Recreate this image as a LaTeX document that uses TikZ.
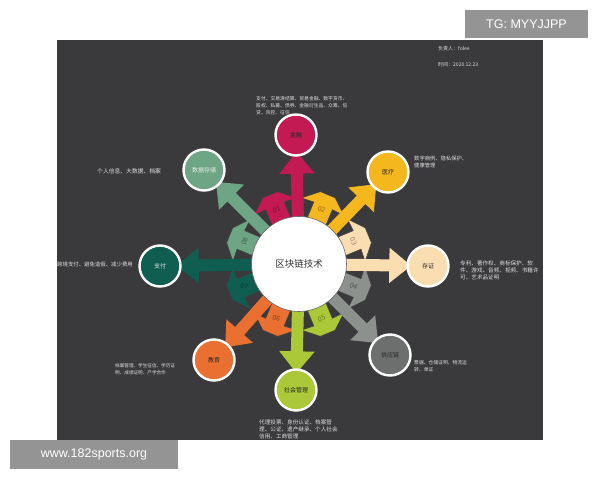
\documentclass[tikz,border=0pt]{standalone}
\usepackage{fontspec}
\setmainfont{Noto Sans CJK SC}
\newfontfamily\wmfont{Liberation Sans}
\usetikzlibrary{arrows.meta,backgrounds}
\definecolor{panel}{RGB}{58,58,60}
\definecolor{jr}{RGB}{196,26,84}
\definecolor{yl}{RGB}{245,183,30}
\definecolor{cz}{RGB}{250,222,178}
\definecolor{gy}{RGB}{140,145,142}
\definecolor{gyc}{RGB}{108,111,109}
\definecolor{sh}{RGB}{170,200,55}
\definecolor{jy}{RGB}{233,112,48}
\definecolor{zf}{RGB}{16,94,82}
\definecolor{sj}{RGB}{110,165,132}
\definecolor{notetext}{RGB}{222,222,222}

\begin{document}
\begin{tikzpicture}[x=1pt,y=1pt,
	hub/.style={circle,fill=white,draw=black!60,line width=0.6pt,minimum size=95pt,inner sep=0pt,
		font=\fontsize{9.5}{11}\selectfont,text=black!80},
	leaf/.style={circle,fill=#1,draw=white,line width=2.4pt,minimum size=41pt,inner sep=0pt,
		font=\fontsize{6}{7}\selectfont,text=black!85},
	spoke/.style={draw=#1,line width=12pt,-{Triangle[length=22pt,width=34pt]},
		shorten >=-5pt,shorten <=-3pt},
	seg/.style={fill=#1,draw=black!75,line width=0.5pt,line join=round},
	segnum/.style={text=#1!60!black,font=\fontsize{7}{8}\selectfont,inner sep=0pt},
	note/.style={align=left,anchor=north west,inner sep=0pt,text=notetext,
		font=\fontsize{#1}{7}\selectfont},
	wbox/.style={fill=black!42,text=white,font=\wmfont\fontsize{12.5}{14}\selectfont,inner sep=0pt}]
	\useasboundingbox (0,0) rectangle (600,480);

	\node[hub] (core) at (299,216) {区块链技术};
	\node[leaf=jr] (jinrong) at (296,345) {金融};
	\node[leaf=yl] (yiliao) at (388,308) {医疗};
	\node[leaf=cz] (cunzheng) at (428,214) {存证};
	\node[leaf=gyc] (gongying) at (390,125) {供应链};
	\node[leaf=sh] (shehui) at (296,90) {社会管理};
	\node[leaf=jy] (jiaoyu) at (214,120) {教育};
	\node[leaf=zf,text=notetext] (zhifu) at (160,214) {支付};
	\node[leaf=sj,text=white!92!black] (shuju) at (204,310) {数据存储};

	\node[note=4.8] (jr-note) at (256,384) {支付、交易清结算、贸易金融、数字货币、\\股权、私募、债券、金融衍生品、众筹、信\\贷、风控、征信};
	\node[note=5.3] (yl-note) at (414,324) {数字病例、隐私保护、\\健康管理};
	\node[note=5.6] (cz-note) at (460,219) {专利、著作权、商标保护、软\\件、游戏、音频、视频、书籍许\\可、艺术品证明};
	\node[note=4.8] (gy-note) at (414,120) {票据、仓储证明、物流运\\转、单证};
	\node[note=5.6] (sh-note) at (259,60) {代理投票、身份认证、档案管\\理、公证、遗产继承、个人社会\\信用、工商管理};
	\node[note=4.6] (jy-note) at (115,117) {档案管理、学生征信、学历证\\明、成绩证明、产学合作};
	\node[note=5.8] (sj-note) at (97,312) {个人信息、大数据、档案};
	\node[note=5.4] (zf-note) at (57,218) {跨境支付、避免造假、减少费用};
	\node[note=5] (owner) at (438,434) {负责人：folee};
	\node[note=5] (date) at (438,418) {时间：2020.12.23};

	\node[wbox,minimum width=123pt,minimum height=28pt] (tg) at (526.5,456) {TG: MYYJJPP};
	\node[wbox,minimum width=168pt,minimum height=29pt] (site) at (94,25.5) {www.182sports.org};

	\begin{scope}[on background layer]
		\fill[white] (0,0) rectangle (600,480);
		\fill[panel] (57,40) rectangle (543,440);
		\foreach \ang/\col/\num/\rot in {112.5/jr/01/22.5,67.5/yl/02/-22.5,22.5/cz/03/-67.5,-22.5/gy/04/-20,
			-67.5/sh/05/20,-112.5/jy/06/-20,-157.5/zf/07/-20,157.5/sj/08/67.5}{
			\begin{scope}[shift={(core.center)},rotate=\ang]
				\draw[seg=\col] (44,-10) -- (63,-10) -- (62,-23) -- (75,-8) -- (75,8) -- (62,23) -- (63,10) -- (44,10) -- cycle;
				\node[segnum=\col,rotate=\rot] (n\num) at (59,0) {\num};
			\end{scope}}
		\draw[spoke=jr] (core) -- (jinrong);
		\draw[spoke=yl] (core) -- (yiliao);
		\draw[spoke=cz] (core) -- (cunzheng);
		\draw[spoke=gy] (core) -- (gongying);
		\draw[spoke=sh] (core) -- (shehui);
		\draw[spoke=jy] (core) -- (jiaoyu);
		\draw[spoke=zf] (core) -- (zhifu);
		\draw[spoke=sj] (core) -- (shuju);
	\end{scope}
\end{tikzpicture}
\end{document}
